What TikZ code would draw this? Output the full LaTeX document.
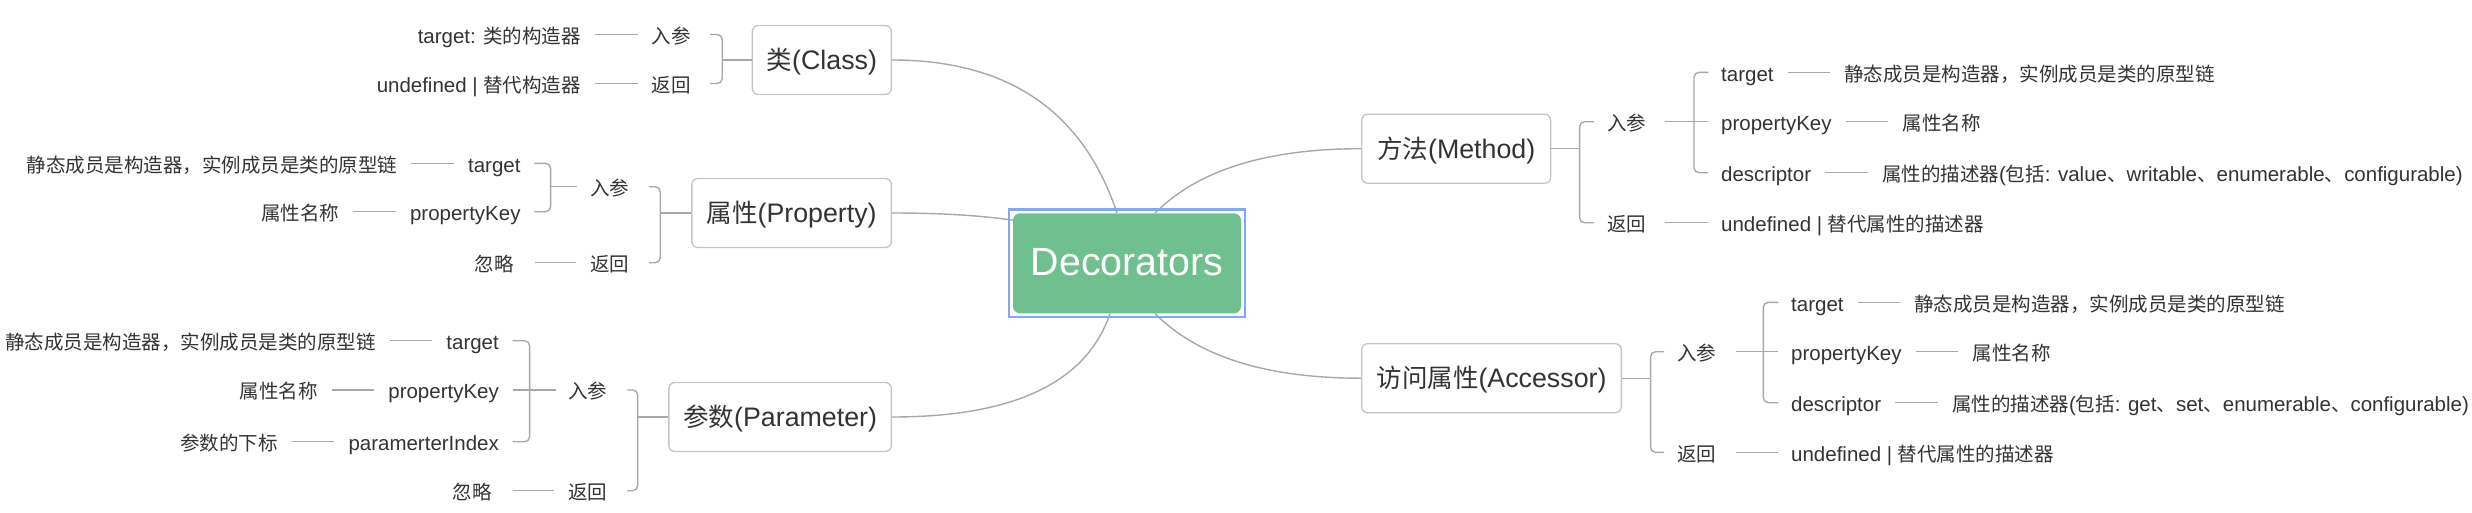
\documentclass[tikz,border=0pt]{standalone}
\usepackage{fontspec}
\setmainfont{Noto Sans CJK SC}
\newfontfamily\lat[Scale=1.05]{Liberation Sans}
\newcommand\latn[1]{{\lat #1}}
\usetikzlibrary{calc}
\definecolor{txt}{HTML}{333333}
\definecolor{lin}{HTML}{A8A8A8}
\definecolor{bord}{HTML}{C4C4C4}
\definecolor{rootg}{HTML}{70C08F}
\definecolor{selb}{HTML}{80A9F2}
\tikzset{
  leaf/.style={inner sep=0pt, text=txt, font=\fontsize{19.5}{24}\selectfont, text height=21.5pt, text depth=3.9pt},
  mainbox/.style={draw=bord, line width=1.3pt, rounded corners=6pt, text=txt, font=\fontsize{25.5}{30}\selectfont, minimum height=69pt, inner sep=0pt, text height=22.4pt, text depth=3.1pt},
  conn/.style={draw=lin, line width=1.4pt},
  brk/.style={conn, rounded corners=5pt},
  curve/.style={draw=lin, line width=1.4pt},
}
\begin{document}
\begin{tikzpicture}[x=1pt, y=-1pt]
\useasboundingbox (0,0) rectangle (2472,512);

% ---------- root ----------
\node[fill=rootg, rounded corners=7pt, minimum width=228pt, minimum height=100pt, inner sep=0pt, text=white, font=\fontsize{37.5}{42}\selectfont\lat, text height=28pt, text depth=3pt] (root) at (1127,263.3) {Decorators};

% ---------- Class ----------
\node[mainbox, minimum width=139pt, anchor=east] (cls) at (892,60) {类\latn{(Class)}};
\node[leaf, anchor=east] (cIn) at (691,34.5) {入参};
\node[leaf, anchor=east] (cRet) at (691,83.5) {返回};
\node[leaf, anchor=east] (cT) at ([xshift=-70.5pt]cIn.west) {\latn{target: }类的构造器};
\node[leaf, anchor=east] (cU) at ([xshift=-70.5pt]cRet.west) {\latn{undefined | }替代构造器};
\draw[conn] ([xshift=14pt]cT.east) -- ([xshift=-14pt]cIn.west);
\draw[conn] ([xshift=14pt]cU.east) -- ([xshift=-14pt]cRet.west);
\draw[brk] ([xshift=19pt]cIn.east) -| ([xshift=-29.5pt]cls.west) |- ([xshift=19pt]cRet.east);
\draw[conn] ([xshift=-29.5pt]cls.west) -- (cls.west);

% ---------- Property ----------
\node[mainbox, minimum width=199.5pt, anchor=east] (prop) at (892,213) {属性\latn{(Property)}};
\node[leaf, anchor=east] (pIn) at (629.5,186.7) {入参};
\node[leaf, anchor=east] (pRet) at (629.5,262.7) {返回};
\node[leaf, anchor=east] (pT) at (520.7,163.3) {\latn{target}};
\node[leaf, anchor=east] (pK) at (520.7,211.7) {\latn{propertyKey}};
\node[leaf, anchor=east] (pTd) at ([xshift=-70.5pt]pT.west) {静态成员是构造器，实例成员是类的原型链};
\node[leaf, anchor=east] (pKd) at ([xshift=-70.5pt]pK.west) {属性名称};
\node[leaf, anchor=east] (pRd) at ([xshift=-76pt]pRet.west) {忽略};
\draw[conn] ([xshift=14pt]pTd.east) -- ([xshift=-14pt]pT.west);
\draw[conn] ([xshift=14pt]pKd.east) -- ([xshift=-14pt]pK.west);
\draw[conn] ([xshift=20.5pt]pRd.east) -- ([xshift=-14pt]pRet.west);
\draw[brk] ([xshift=19.5pt]pIn.east) -| ([xshift=-31pt]prop.west) |- ([xshift=19.5pt]pRet.east);
\draw[conn] ([xshift=-31pt]prop.west) -- (prop.west);
\draw[brk] ([xshift=13.6pt]pT.east) -| ([xshift=-39.5pt]pIn.west) |- ([xshift=13.6pt]pK.east);
\draw[conn] ([xshift=-39.5pt]pIn.west) -- ([xshift=-13.3pt]pIn.west);

% ---------- Parameter ----------
\node[mainbox, minimum width=222.5pt, anchor=east] (par) at (892,417) {参数\latn{(Parameter)}};
\node[leaf, anchor=east] (aIn) at (607.5,390) {入参};
\node[leaf, anchor=east] (aRet) at (607.5,490.7) {返回};
\node[leaf, anchor=east] (aT) at (499,340.7) {\latn{target}};
\node[leaf, anchor=east] (aK) at (499,390) {\latn{propertyKey}};
\node[leaf, anchor=east] (aX) at (499,441.7) {\latn{paramerterIndex}};
\node[leaf, anchor=east] (aTd) at ([xshift=-70.5pt]aT.west) {静态成员是构造器，实例成员是类的原型链};
\node[leaf, anchor=east] (aKd) at ([xshift=-70.5pt]aK.west) {属性名称};
\node[leaf, anchor=east] (aXd) at ([xshift=-70.5pt]aX.west) {参数的下标};
\node[leaf, anchor=east] (aRd) at ([xshift=-76pt]aRet.west) {忽略};
\draw[conn] ([xshift=14pt]aTd.east) -- ([xshift=-14pt]aT.west);
\draw[conn] ([xshift=14pt]aKd.east) -- ([xshift=-14pt]aK.west);
\draw[conn] ([xshift=14pt]aXd.east) -- ([xshift=-14pt]aX.west);
\draw[conn] ([xshift=20.5pt]aRd.east) -- ([xshift=-14pt]aRet.west);
\draw[brk] ([xshift=19.8pt]aIn.east) -| ([xshift=-30.5pt]par.west) |- ([xshift=19.8pt]aRet.east);
\draw[conn] ([xshift=-30.5pt]par.west) -- (par.west);
\draw[brk] ([xshift=13.7pt]aT.east) -| ([xshift=-38.5pt]aIn.west) |- ([xshift=13.7pt]aX.east);
\draw[conn] ([xshift=13.7pt]aK.east) -- ([xshift=-12pt]aIn.west);

% ---------- Method ----------
\node[mainbox, minimum width=189pt, anchor=west] (meth) at (1361,148.7) {方法\latn{(Method)}};
\node[leaf, anchor=west] (mIn) at (1607,121.7) {入参};
\node[leaf, anchor=west] (mRet) at (1607,222.7) {返回};
\node[leaf, anchor=west] (mT) at (1721,72.3) {\latn{target}};
\node[leaf, anchor=west] (mK) at (1721,121.7) {\latn{propertyKey}};
\node[leaf, anchor=west] (mD) at (1721,172.7) {\latn{descriptor}};
\node[leaf, anchor=west] (mU) at (1721,222.7) {\latn{undefined | }替代属性的描述器};
\node[leaf, anchor=west] (mTd) at ([xshift=70.5pt]mT.east) {静态成员是构造器，实例成员是类的原型链};
\node[leaf, anchor=west] (mKd) at ([xshift=70.5pt]mK.east) {属性名称};
\node[leaf, anchor=west] (mDd) at ([xshift=70.5pt]mD.east) {属性的描述器\latn{(}包括\latn{: value}、\latn{writable}、\latn{enumerable}、\latn{configurable)}};
\draw[conn] ([xshift=14pt]mT.east) -- ([xshift=-14pt]mTd.west);
\draw[conn] ([xshift=14pt]mK.east) -- ([xshift=-14pt]mKd.west);
\draw[conn] ([xshift=14pt]mD.east) -- ([xshift=-14pt]mDd.west);
\draw[brk] ([xshift=-13pt]mIn.west) -| ([xshift=28.3pt]meth.east) |- ([xshift=-13pt]mRet.west);
\draw[conn] (meth.east) -- ([xshift=28.3pt]meth.east);
\draw[brk] ([xshift=-12.7pt]mT.west) -| ([xshift=-27pt]mK.west) |- ([xshift=-12.7pt]mD.west);
\draw[conn] ([xshift=19pt]mIn.east) -- ([xshift=-12.7pt]mK.west);
\draw[conn] ([xshift=19pt]mRet.east) -- ([xshift=-12.7pt]mU.west);

% ---------- Accessor ----------
\node[mainbox, minimum width=259.7pt, anchor=west] (acc) at (1361,378.2) {访问属性\latn{(Accessor)}};
\node[leaf, anchor=west] (xIn) at (1677.2,351.7) {入参};
\node[leaf, anchor=west] (xRet) at (1677.2,452.3) {返回};
\node[leaf, anchor=west] (xT) at (1791,302.3) {\latn{target}};
\node[leaf, anchor=west] (xK) at (1791,351.7) {\latn{propertyKey}};
\node[leaf, anchor=west] (xD) at (1791,402.7) {\latn{descriptor}};
\node[leaf, anchor=west] (xU) at (1791,452.3) {\latn{undefined | }替代属性的描述器};
\node[leaf, anchor=west] (xTd) at ([xshift=70.5pt]xT.east) {静态成员是构造器，实例成员是类的原型链};
\node[leaf, anchor=west] (xKd) at ([xshift=70.5pt]xK.east) {属性名称};
\node[leaf, anchor=west] (xDd) at ([xshift=70.5pt]xD.east) {属性的描述器\latn{(}包括\latn{: get}、\latn{set}、\latn{enumerable}、\latn{configurable)}};
\draw[conn] ([xshift=14pt]xT.east) -- ([xshift=-14pt]xTd.west);
\draw[conn] ([xshift=14pt]xK.east) -- ([xshift=-14pt]xKd.west);
\draw[conn] ([xshift=14pt]xD.east) -- ([xshift=-14pt]xDd.west);
\draw[brk] ([xshift=-13.2pt]xIn.west) -| ([xshift=28.6pt]acc.east) |- ([xshift=-13.2pt]xRet.west);
\draw[conn] (acc.east) -- ([xshift=28.6pt]acc.east);
\draw[brk] ([xshift=-12.7pt]xT.west) -| ([xshift=-27.7pt]xK.west) |- ([xshift=-12.7pt]xD.west);
\draw[conn] ([xshift=19.5pt]xIn.east) -- ([xshift=-12.7pt]xK.west);
\draw[conn] ([xshift=19.5pt]xRet.east) -- ([xshift=-12.7pt]xU.west);

% ---------- curves to root ----------
\draw[curve] (cls.east) .. controls (1008,60) and (1083,111) .. ([xshift=-10pt]root.north);
\draw[curve] (prop.east) .. controls (955,213) and (990,217) .. ([yshift=-7pt]root.north west);
\draw[curve] (par.east) .. controls (1014,417) and (1086.7,382.4) .. ([xshift=-17pt]root.south);
\draw[curve] ([xshift=28pt]root.north) .. controls (1197.7,170.2) and (1266.3,148.7) .. (meth.west);
\draw[curve] ([xshift=28pt]root.south) .. controls (1197.7,356.6) and (1266.3,378.2) .. (acc.west);

% selection frame
\draw[selb, line width=2.6pt] ([shift={(-4pt,3.6pt)}]root.north west) rectangle ([shift={(3.6pt,-3.6pt)}]root.south east);
\end{tikzpicture}
\end{document}
